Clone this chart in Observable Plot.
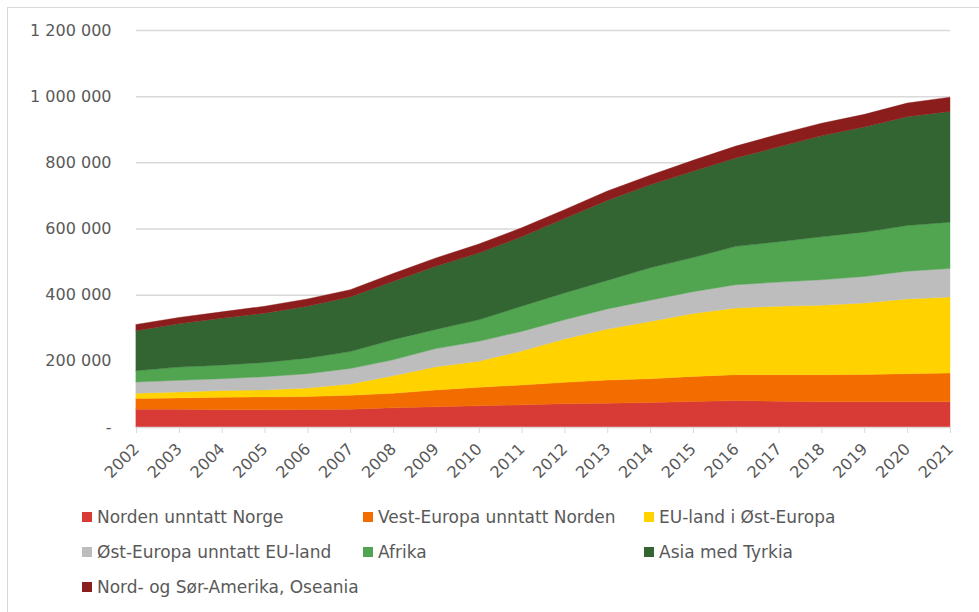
<!DOCTYPE html>
<html><head><meta charset="utf-8">
<script src="https://cdn.jsdelivr.net/npm/d3@7"></script>
<script src="https://cdn.jsdelivr.net/npm/@observablehq/plot@0.6"></script>
<style>
body{margin:0;background:#fff;font-family:"DejaVu Sans",sans-serif;}
#frame{position:absolute;left:7px;top:7px;width:1000px;height:700px;border:1px solid #d9d9d9;pointer-events:none;}
#chart{position:relative;}
#legend{position:relative;display:grid;grid-template-columns:281px 281px 281px;margin-left:82px;padding-top:2px;}
.item{display:flex;align-items:center;height:35px;font-size:17px;color:#595959;white-space:nowrap;}
.sw{width:10px;height:10px;margin-right:5px;flex:none;}
</style></head><body>
<div id="frame"></div>
<div id="chart"></div>
<div id="legend"></div>
<script>
const years = [2002,2003,2004,2005,2006,2007,2008,2009,2010,2011,2012,2013,2014,2015,2016,2017,2018,2019,2020,2021];
const seriesNames = ["Norden unntatt Norge","Vest-Europa unntatt Norden","EU-land i Øst-Europa","Øst-Europa unntatt EU-land","Afrika","Asia med Tyrkia","Nord- og Sør-Amerika, Oseania"];
const colors = ["#d83b36","#f36c00","#ffd200","#bdbdbd","#52a550","#326532","#8b1e1c"];
const norden   = [54000,54000,52000,52000,53000,54000,58000,61000,64000,67000,70000,72000,74000,77000,80000,78000,76000,76000,76000,76000];
const vestEur  = [32000,34000,38000,39000,39000,42000,44000,51000,56000,60000,65000,70000,72000,76000,78000,80000,82000,83000,85000,87000];
const euOst    = [16000,18000,20000,21000,26000,34000,53000,70000,79000,103000,131000,154000,173000,190000,202000,207000,210000,216000,226000,230000];
const ostEur   = [34000,35000,36000,40000,43000,47000,48000,55000,60000,59000,58000,61000,64000,66000,70000,73000,77000,80000,84000,86000];
const afrika   = [34000,40000,41000,43000,47000,51000,61000,58000,65000,76000,81000,86000,98000,103000,116000,122000,130000,134000,138000,140000];
const asia     = [121000,131000,142000,149000,157000,165000,176000,191000,202000,210000,225000,242000,251000,261000,267000,287000,305000,318000,329000,335000];
const amerika  = [19000,19000,19000,21000,22000,22000,24000,25000,27000,27000,27000,28000,29000,33000,36000,38000,38000,38000,41000,43000];
const yTicks = [0,200000,400000,600000,800000,1000000,1200000];

const seriesValues = [norden, vestEur, euOst, ostEur, afrika, asia, amerika];
const data = [];
seriesNames.forEach((s, si) => {
  years.forEach((y, yi) => data.push({year: y, series: s, value: seriesValues[si][yi]}));
});

const fmt = v => v === 0 ? "-" : d3.format(",")(v).replace(/,/g, " ");

const chart = Plot.plot({
  width: 979,
  height: 497,
  marginLeft: 136,
  marginRight: 29,
  marginTop: 30,
  marginBottom: 70,
  style: {fontFamily: "DejaVu Sans, sans-serif", fontSize: "16px", background: "transparent"},
  x: {domain: [2002, 2021], axis: null},
  y: {domain: [0, 1200000], axis: null},
  color: {domain: seriesNames, range: colors},
  marks: [
    Plot.gridY(yTicks.filter(d => d > 0), {stroke: "#d9d9d9", strokeOpacity: 1, strokeWidth: 1.5}),
    Plot.areaY(data, {x: "year", y: "value", fill: "series", stroke: "series", strokeWidth: 0.4, order: seriesNames}),
    Plot.ruleY([0], {stroke: "#d9d9d9", strokeWidth: 1.5}),
    Plot.axisY({ticks: yTicks, tickSize: 0, tickPadding: 25, tickFormat: fmt, fill: "#595959", fontSize: 16, label: null}),
    Plot.axisX({ticks: years, tickSize: 6, tickPadding: 13, tickRotate: -45, tickFormat: d => String(d), stroke: "#d9d9d9", strokeWidth: 1, fill: "#595959", fontSize: 16, label: null})
  ]
});
document.getElementById("chart").appendChild(chart);

const lg = document.getElementById("legend");
seriesNames.forEach((s, i) => {
  const it = document.createElement("div");
  it.className = "item";
  const sw = document.createElement("span");
  sw.className = "sw";
  sw.style.background = colors[i];
  const t = document.createElement("span");
  t.textContent = s;
  it.appendChild(sw); it.appendChild(t);
  lg.appendChild(it);
});
</script>
</body></html>
